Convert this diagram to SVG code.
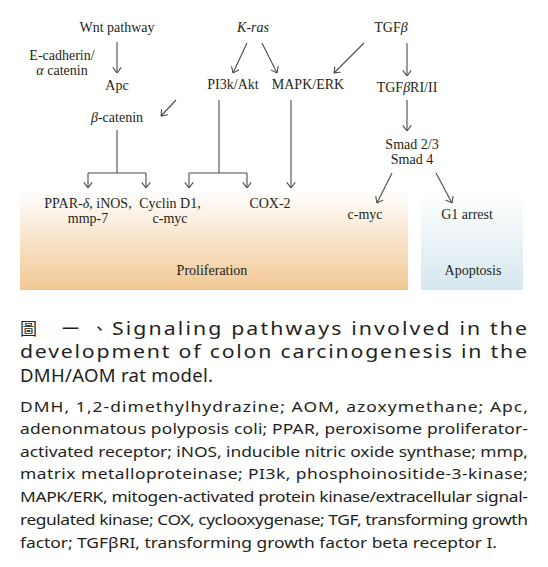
<svg xmlns="http://www.w3.org/2000/svg" width="548" height="567" viewBox="0 0 548 567">
<style>
.t{font-family:"Liberation Serif","Times New Roman",serif;font-size:14px;fill:#231f20;text-anchor:middle}
.i{font-style:italic}
.c{stroke:#4a4a4a;stroke-width:1.1;fill:none}
.a{marker-end:url(#ah)}
.cap{font-family:"Noto Sans","Noto Sans CJK TC",sans-serif;font-size:18.5px;fill:#231f20}
.cjk{font-family:"Noto Sans CJK TC",sans-serif;font-size:17px;fill:#231f20}
.body{font-family:"Noto Sans","Noto Sans CJK TC",sans-serif;font-size:14.5px;fill:#231f20}
</style>
<defs>
<marker id="ah" viewBox="0 0 6 10" refX="5.6" refY="5" markerWidth="6" markerHeight="10" markerUnits="userSpaceOnUse" orient="auto">
<path d="M0,0.8 L5.6,5 L0,9.2" fill="none" stroke="#4a4a4a" stroke-width="1.1"/>
</marker>
<linearGradient id="gp" x1="0" y1="0" x2="0" y2="1">
<stop offset="0" stop-color="#ffffff"/>
<stop offset="0.12" stop-color="#fefaf6"/>
<stop offset="1" stop-color="#f1c893"/>
</linearGradient>
<linearGradient id="ga" x1="0" y1="0" x2="0" y2="1">
<stop offset="0" stop-color="#ffffff"/>
<stop offset="0.15" stop-color="#fbfdfd"/>
<stop offset="1" stop-color="#d5e7ee"/>
</linearGradient>
</defs>
<rect width="548" height="567" fill="#ffffff"/>

<g id="proliferation">
<rect x="20" y="188" width="388" height="102" fill="url(#gp)"/>
<text class="t" x="212" y="275">Proliferation</text>
</g>
<g id="apoptosis">
<rect x="421" y="188" width="102" height="102" fill="url(#ga)"/>
<text class="t" x="473" y="275">Apoptosis</text>
</g>

<g id="connectors">
<line class="c a" x1="117" y1="42" x2="117" y2="73"/>
<line class="c a" x1="247" y1="43" x2="233" y2="73"/>
<line class="c a" x1="262" y1="43" x2="277" y2="73"/>
<line class="c a" x1="364" y1="43" x2="334" y2="73"/>
<line class="c a" x1="407" y1="43" x2="407" y2="76"/>
<line class="c a" x1="407" y1="100" x2="407" y2="131"/>
<line class="c a" x1="176" y1="100" x2="161" y2="116"/>
<path class="c" d="M117,130 V173 M88,173 H146 M219,100 V173 M189,173 H247"/>
<line class="c a" x1="88" y1="173" x2="88" y2="188"/>
<line class="c a" x1="146" y1="173" x2="146" y2="188"/>
<line class="c a" x1="189" y1="173" x2="189" y2="188"/>
<line class="c a" x1="247" y1="173" x2="247" y2="188"/>
<line class="c a" x1="291" y1="100" x2="291" y2="188"/>
<line class="c a" x1="392" y1="173" x2="377" y2="203"/>
<line class="c a" x1="436" y1="173" x2="452" y2="203"/>
</g>

<g id="wnt"><text class="t" x="117" y="32">Wnt pathway</text></g>
<g id="ecadherin"><text class="t" x="62" y="60">E-cadherin/</text><text class="t" x="62" y="75"><tspan class="i">α</tspan> catenin</text></g>
<g id="kras"><text class="t i" x="253" y="32">K-ras</text></g>
<g id="tgfb"><text class="t" x="391" y="32">TGF<tspan class="i">β</tspan></text></g>
<g id="apc"><text class="t" x="117" y="90">Apc</text></g>
<g id="pi3k"><text class="t" x="233" y="89">PI3k/Akt</text></g>
<g id="mapk"><text class="t" x="308" y="89">MAPK/ERK</text></g>
<g id="tgfbr"><text class="t" x="407" y="92">TGF<tspan class="i">β</tspan>RI/II</text></g>
<g id="bcatenin"><text class="t" x="117" y="122"><tspan class="i">β</tspan>-catenin</text></g>
<g id="smad"><text class="t" x="412" y="149">Smad 2/3</text><text class="t" x="412" y="164">Smad 4</text></g>
<g id="ppar"><text class="t" x="88" y="208">PPAR-<tspan class="i">δ</tspan>, iNOS,</text><text class="t" x="88" y="223">mmp-7</text></g>
<g id="cyclin"><text class="t" x="170" y="208">Cyclin D1,</text><text class="t" x="170" y="223">c-myc</text></g>
<g id="cox2"><text class="t" x="270" y="208">COX-2</text></g>
<g id="cmyc"><text class="t" x="365" y="219">c-myc</text></g>
<g id="g1"><text class="t" x="467" y="219">G1 arrest</text></g>

<g id="caption">
<text class="cjk" y="335"><tspan x="20">圖</tspan><tspan x="62">一</tspan><tspan x="91">、</tspan></text>
<g transform="scale(1.15,1)">
<text class="cap" x="97.39" y="335" textLength="360.9" lengthAdjust="spacing">Signaling pathways involved in the</text>
<text class="cap" x="17.39" y="358" textLength="440.9" lengthAdjust="spacing">development of colon carcinogenesis in the</text>
</g>
<text class="cap" x="20" y="382" textLength="193" lengthAdjust="spacing">DMH/AOM rat model.</text>
</g>
<g id="legend" transform="scale(1.2,1)">
<text class="body" x="16.667" y="412" textLength="423.3" lengthAdjust="spacing">DMH, 1,2-dimethylhydrazine; AOM, azoxymethane; Apc,</text>
<text class="body" x="16.667" y="434.5" textLength="423.3" lengthAdjust="spacing">adenonmatous polyposis coli; PPAR, peroxisome proliferator-</text>
<text class="body" x="16.667" y="457" textLength="423.3" lengthAdjust="spacing">activated receptor; iNOS, inducible nitric oxide synthase; mmp,</text>
<text class="body" x="16.667" y="479.5" textLength="423.3" lengthAdjust="spacing">matrix metalloproteinase; PI3k, phosphoinositide-3-kinase;</text>
<text class="body" x="16.667" y="502.5" textLength="423.3" lengthAdjust="spacing">MAPK/ERK, mitogen-activated protein kinase/extracellular signal-</text>
<text class="body" x="16.667" y="525" textLength="423.3" lengthAdjust="spacing">regulated kinase; COX, cyclooxygenase; TGF, transforming growth</text>
<text class="body" x="16.667" y="548" textLength="397.5" lengthAdjust="spacing">factor; TGFβRI, transforming growth factor beta receptor I.</text>
</g>
</svg>
